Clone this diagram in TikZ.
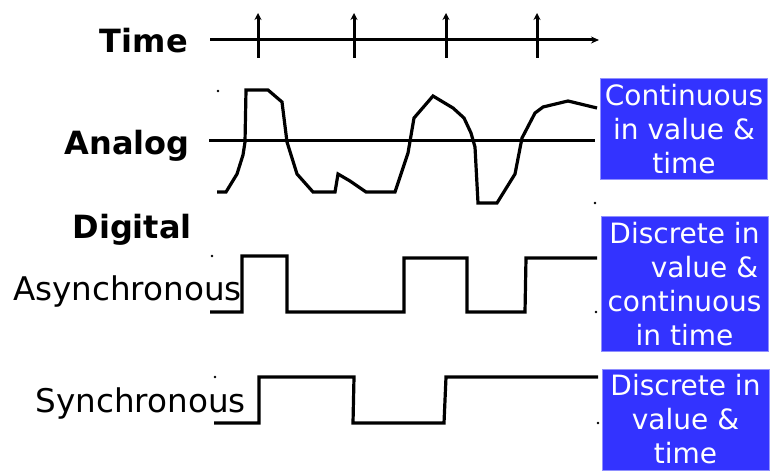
\documentclass[tikz,border=0pt]{standalone}
\usepackage{fontspec}
\setmainfont{DejaVu Sans}
\usetikzlibrary{arrows.meta}
\definecolor{boxblue}{RGB}{51,51,255}

\begin{document}
\begin{tikzpicture}[
    x=1pt, y=-1pt,
    wave/.style={line width=3.2pt, line join=miter, black},
    axis/.style={line width=3pt, black},
    tickarrow/.style={line width=3pt, -{Stealth[length=7pt,width=7pt]}},
    rowlabel/.style={font=\fontsize{32.6}{36}\selectfont, anchor=base east, inner sep=0pt},
    headlabel/.style={rowlabel, font=\fontsize{32}{36}\selectfont\bfseries},
    infobox/.style={fill=boxblue, draw=boxblue!55!white, line width=1pt, text=white,
        align=center, font=\fontsize{28}{34}\selectfont, minimum width=167pt, inner sep=0pt}
]
\useasboundingbox (0,0) rectangle (770,473);

% Row labels
\node[headlabel] (time) at (188,53) {Time};
\node[headlabel] (analog) at (190,155) {Analog};
\node[headlabel] (digital) at (192,238) {Digital};
\node[rowlabel] (async) at (242,300) {Asynchronous};
\node[rowlabel] (sync) at (246,412) {Synchronous};

% Time axis
\coordinate (tstart) at (210,40);
\coordinate (tend) at (599,40);
\draw[axis, -{Stealth[length=8pt,width=7pt]}] (tstart) -- (tend);
\foreach \t in {258,354,446,537} {
    \coordinate (tick\t) at (\t,58);
    \coordinate (tip\t) at (\t,13);
    \draw[tickarrow] (tick\t) -- (tip\t);
}

% Analog
\draw[axis] (209,141) -- (595,141);
\draw[wave] (217,192) -- (226,192) -- (237,174) -- (243,155) -- (245,142)
    -- (246,90) -- (268,90) -- (282,102) -- (287,142) -- (297,174)
    -- (313,192) -- (335,192) -- (338,174) -- (350,181) -- (366,192)
    -- (395,192) -- (408,153) -- (414,118) -- (433,96) -- (453,108)
    -- (464,118) -- (471,133) -- (475,147) -- (478,203) -- (497,203)
    -- (515,174) -- (522,138) -- (535,113) -- (543,107) -- (568,101)
    -- (597,108);

% Asynchronous
\draw[wave] (210,312) -- (242,312) -- (242,256) -- (287,256) -- (287,312)
    -- (404,312) -- (404,258) -- (467,258) -- (467,312) -- (525,312)
    -- (526,258) -- (597,258);

% Synchronous
\draw[wave] (214,423) -- (259,423) -- (259,377) -- (354,377) -- (353,423)
    -- (444,423) -- (446,377) -- (598,377);

% corner marks
\foreach \p in {(218,91),(595,203),(212,256),(596,312),(215,377),(598,423)}
    \fill \p circle (1.4pt);

% Boxes
\node[infobox, minimum height=101pt] (contbox) at (684,129) {Continuous\\in value \&\\time};
\node[infobox, minimum height=135pt] (mixbox) at (684.5,284) {Discrete in\\\hspace*{40pt}value \&\\continuous\\in time};
\node[infobox, minimum height=101pt] (discbox) at (685.5,419.5) {Discrete in\\value \&\\time};
\end{tikzpicture}
\end{document}
